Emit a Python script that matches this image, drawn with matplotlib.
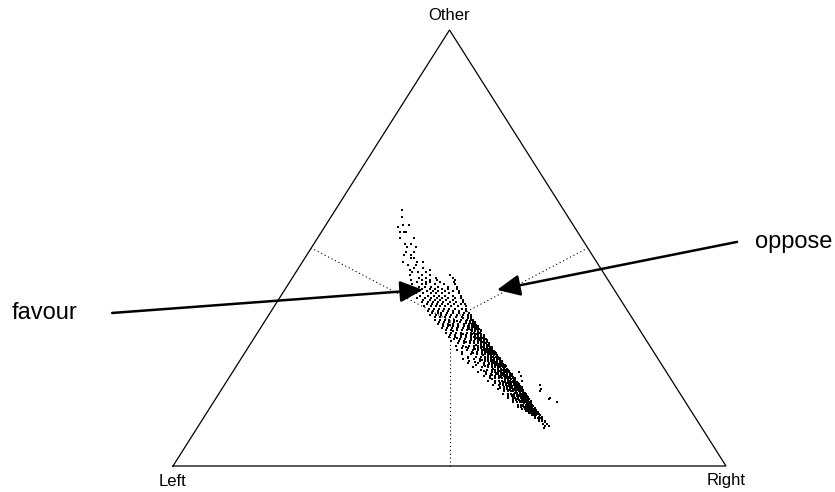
import matplotlib

matplotlib.use("Agg")
import matplotlib.pyplot as plt
import numpy as np

plt.rcParams["font.family"] = ["Liberation Sans", "DejaVu Sans"]

VERTEX_LABELS = ("Left", "Right", "Other")

# shares in percent (one row = one "Other" level)
other_levels = [
    58.7, 57.2, 55.3, 54.8, 53.6, 52.2, 51.0, 50.2, 49.0, 48.3,
    47.6, 46.7, 46.1, 45.4, 45.0, 44.4, 43.8, 43.2, 42.7, 42.2,
    41.7, 41.1, 40.6, 40.1, 39.6, 39.1, 38.6, 38.1, 37.6, 37.1,
    36.6, 36.1, 35.6, 35.1, 34.6, 34.1, 33.6, 33.1, 32.6, 32.1,
    31.6, 31.1, 30.6, 30.1, 29.6, 29.1, 28.6, 28.1, 27.6, 27.1,
    26.6, 26.1, 25.6, 25.1, 24.6, 24.1, 23.6, 23.1, 22.6, 22.1,
    21.6, 21.1, 20.6, 20.1, 19.6, 19.1, 18.6, 18.1, 17.6, 17.1,
    16.6, 16.1, 15.6, 15.1, 14.6, 14.1, 13.6, 13.1, 12.6, 12.1,
    11.6, 11.0, 10.4, 9.7, 8.7,
]
left_values = [
    [29.3], [29.9], [30.8, 29.6], [31.9], [32.2, 31.4, 31.0],
    [30.4, 32.9], [32.5, 31.4], [32.6, 30.9], [33.3, 31.9], [32.9, 34.0],
    [32.6, 33.2], [35.1, 32.6, 31.4], [34.5, 33.0], [32.1, 33.8], [34.7, 31.1],
    [34.5, 33.5, 32.0], [35.2, 33.0, 31.6, 28.0], [34.0, 32.7, 30.8, 27.8],
    [35.6, 33.6, 32.2, 31.0, 27.7], [34.8, 33.1, 32.5, 30.6, 28.1],
    [35.9, 34.2, 33.4, 31.8, 30.2, 28.2], [35.0, 33.9, 32.8, 31.5, 29.8, 28.1],
    [36.1, 34.6, 33.3, 32.4, 31.1, 30.0, 28.4], [35.4, 34.1, 33.0, 32.0, 30.7, 29.4, 28.3],
    [36.3, 35.0, 33.6, 32.7, 31.6, 30.3, 28.5], [35.8, 34.4, 33.3, 32.3, 31.2, 29.9, 28.4],
    [36.5, 35.2, 34.0, 33.0, 32.1, 31.0, 29.7, 28.6], [35.7, 34.5, 33.6, 32.6, 31.5, 30.4, 28.5],
    [36.2, 35.0, 34.1, 33.2, 32.3, 31.2, 30.0, 28.7], [35.5, 34.6, 33.7, 32.8, 31.8, 30.6, 29.3, 28.6],
    [36.4, 35.1, 34.2, 33.4, 32.5, 31.4, 30.2, 28.8], [35.7, 34.7, 33.8, 33.0, 32.0, 30.9, 29.6, 28.9],
    [36.0, 35.2, 34.3, 33.3, 32.4, 31.5, 30.4, 29.2], [35.6, 34.6, 33.9, 32.9, 31.9, 30.8, 29.8, 29.0],
    [36.2, 35.1, 34.2, 33.4, 32.5, 31.3, 30.2, 29.3, 28.9], [35.5, 34.7, 33.8, 32.8, 31.8, 30.6, 29.6, 29.0],
    [35.9, 35.0, 34.1, 33.2, 32.3, 31.1, 30.1, 29.4, 28.9], [35.3, 34.5, 33.5, 32.6, 31.6, 30.5, 29.8, 29.2, 28.8],
    [35.8, 34.9, 33.9, 33.0, 32.1, 31.0, 30.2, 29.6, 29.0], [35.2, 34.3, 33.3, 32.4, 31.4, 30.6, 29.9, 29.3, 28.8],
    [35.6, 34.7, 33.7, 32.8, 31.8, 30.9, 30.2, 29.6, 29.0], [35.0, 34.1, 33.1, 32.2, 31.2, 30.5, 29.9, 29.3, 28.8],
    [35.4, 34.5, 33.5, 32.6, 31.6, 30.8, 30.2, 29.6, 29.1], [34.8, 33.9, 32.9, 31.9, 31.0, 30.4, 29.8, 29.3, 28.8],
    [35.2, 34.2, 33.2, 32.3, 31.3, 30.7, 30.1, 29.5, 29.0], [34.6, 33.6, 32.6, 31.6, 30.9, 30.3, 29.8, 29.2, 28.8],
    [35.5, 34.0, 33.0, 32.0, 31.2, 30.6, 30.0, 29.5, 29.0], [34.4, 33.3, 32.3, 31.5, 30.8, 30.3, 29.8, 29.3, 28.8],
    [35.0, 33.7, 32.7, 31.8, 31.0, 30.5, 30.0, 29.5, 29.0], [34.2, 33.1, 32.1, 31.3, 30.7, 30.2, 29.7, 29.2, 28.8],
    [35.3, 33.6, 32.5, 31.6, 30.9, 30.4, 29.9, 29.4, 29.0], [34.6, 32.9, 31.9, 31.1, 30.6, 30.1, 29.6, 29.1, 28.7],
    [35.0, 33.4, 32.3, 31.4, 30.8, 30.3, 29.8, 29.3, 28.9], [34.1, 32.7, 31.7, 31.0, 30.5, 30.0, 29.5, 29.0, 28.6],
    [35.2, 33.2, 32.1, 31.3, 30.7, 30.2, 29.7, 29.2, 28.8], [34.4, 32.5, 31.5, 30.9, 30.4, 29.9, 29.4, 28.9, 28.5],
    [34.8, 33.0, 31.9, 31.1, 30.6, 30.1, 29.6, 29.1, 28.7], [33.6, 32.3, 31.4, 30.8, 30.3, 29.8, 29.3, 28.8, 28.4],
    [34.5, 32.8, 31.8, 31.0, 30.5, 30.0, 29.5, 29.0, 28.6], [33.2, 32.1, 31.2, 30.7, 30.2, 29.7, 29.2, 28.7, 28.3],
    [34.0, 32.6, 31.6, 30.9, 30.4, 29.9, 29.4, 28.9, 28.5, 26.6], [32.9, 31.9, 31.1, 30.6, 30.1, 29.6, 29.1, 28.6, 28.2],
    [33.5, 32.3, 31.4, 30.8, 30.3, 29.8, 29.3, 28.8, 28.4, 26.8], [32.6, 31.7, 31.0, 30.5, 30.0, 29.5, 29.0, 28.5, 28.1],
    [33.2, 32.0, 31.2, 30.7, 30.2, 29.7, 29.2, 28.7, 28.3, 27.0], [32.2, 31.4, 30.8, 30.3, 29.8, 29.3, 28.8, 28.4, 28.0],
    [32.8, 31.7, 31.0, 30.5, 30.0, 29.5, 29.0, 28.6, 28.2, 24.3], [31.9, 31.1, 30.6, 30.1, 29.6, 29.1, 28.7, 28.3, 27.9],
    [32.4, 31.4, 30.8, 30.3, 29.8, 29.3, 28.9, 28.5, 28.1, 24.6], [31.6, 30.9, 30.4, 29.9, 29.4, 28.9, 28.5, 28.1, 25.0],
    [32.0, 31.1, 30.5, 30.0, 29.5, 29.0, 28.6, 28.2, 27.8], [31.3, 30.7, 30.2, 29.7, 29.2, 28.8, 28.4, 28.0],
    [31.6, 30.8, 30.3, 29.8, 29.3, 28.9, 28.5, 28.1, 24.0], [30.9, 30.4, 29.9, 29.4, 29.0, 28.6, 28.2],
    [31.2, 30.5, 30.0, 29.5, 29.1, 28.7, 28.3, 23.2], [30.6, 30.1, 29.6, 29.2, 28.8, 28.4, 28.0],
    [30.8, 30.2, 29.7, 29.3, 28.9, 28.5], [30.3, 29.8, 29.4, 29.0, 28.6, 28.2],
    [29.9, 29.5, 29.1, 28.7, 28.3], [29.6, 29.2, 28.8, 28.4],
    [29.3, 28.9, 28.5, 27.9], [29.0, 28.5, 28.0], [28.7, 28.1, 27.6], [28.2, 27.5], [28.5],
]

# in-between rows along the dense ridge (same units)
ridge_levels = [
    33.85, 33.35, 32.85, 32.35, 31.85, 31.35, 30.85, 30.35, 29.85, 29.35,
    28.85, 28.35, 27.85, 27.35, 26.85, 26.35, 25.85, 25.35, 24.85, 24.35,
    23.85, 23.35, 22.85, 22.35, 21.85, 21.35, 20.85, 20.35, 19.85, 19.35,
    18.85, 18.35, 17.85, 17.35, 16.85, 16.35, 15.85, 15.35, 14.85, 14.35,
    13.85, 13.35, 12.85, 12.35, 11.85, 11.3, 10.7, 10.0, 9.2,
]
ridge_left_values = [
    [29.2, 29.7, 30.6], [29.1, 29.6, 30.4, 31.9], [29.3, 29.8, 30.6], [29.1, 29.6, 30.3, 33.8],
    [29.3, 29.8, 30.5, 32.5], [29.0, 29.6, 30.2, 30.8], [28.9, 29.4, 29.9, 30.5, 34.0],
    [29.1, 29.6, 30.1, 30.7, 32.4], [28.9, 29.4, 29.9, 30.5], [29.0, 29.5, 30.0, 30.6, 33.9],
    [28.8, 29.3, 29.8, 30.3, 31.7], [29.0, 29.5, 30.0, 30.6, 32.8], [28.9, 29.3, 29.8, 30.3, 31.2],
    [28.7, 29.0, 29.5, 30.0, 30.5, 33.4], [28.9, 29.2, 29.7, 30.2, 31.9], [28.8, 29.3, 29.8, 30.3, 30.9],
    [28.6, 29.1, 29.6, 30.1, 32.8], [28.8, 29.3, 29.8, 30.3, 31.3], [28.5, 29.0, 29.5, 30.0, 30.6, 34.2],
    [28.7, 29.2, 29.7, 30.2, 31.9], [28.5, 28.9, 29.4, 29.9, 30.4, 33.4], [28.6, 29.1, 29.6, 30.1, 31.1],
    [28.4, 28.8, 29.3, 29.8, 30.3, 32.2], [28.5, 29.0, 29.5, 30.0, 30.9], [28.3, 28.7, 29.2, 29.7, 30.2, 32.9],
    [28.4, 28.9, 29.4, 29.9, 30.8], [28.2, 28.6, 29.1, 29.6, 30.1, 31.8], [28.3, 28.8, 29.3, 29.8, 30.6],
    [28.2, 28.5, 29.0, 29.5, 30.0, 32.3], [28.2, 28.6, 29.1, 29.6, 30.4], [28.0, 28.4, 28.9, 29.4, 29.9, 31.4],
    [28.1, 28.5, 29.0, 29.5, 30.3], [28.0, 28.3, 28.8, 29.3, 29.8, 31.9], [28.1, 28.6, 29.1, 29.6, 30.6],
    [27.9, 28.3, 28.8, 29.3, 29.8], [28.0, 28.5, 29.0, 29.5, 30.4], [27.9, 28.3, 28.7, 29.1, 29.6],
    [28.0, 28.4, 28.8, 29.2, 30.1, 24.4], [27.9, 28.3, 28.7, 29.2, 29.7], [28.1, 28.5, 28.9, 29.4],
    [28.0, 28.3, 28.7, 29.1, 29.9], [27.9, 28.4, 28.8, 29.2], [28.0, 28.5, 28.9, 29.6],
    [27.8, 28.2, 28.6, 29.0], [27.9, 28.3, 28.7], [27.7, 28.2, 28.8], [27.9, 28.4], [27.8], [27.4, 28.1],
]

# reference composition marked by the dotted lines (left, right, other)
centre_share = [1 / 3, 1 / 3, 1 / 3]

# annotation arrows, in axes fractions of the triangle box
favour_start, favour_tip = (-0.110, 0.351), (0.452, 0.404)
oppose_start, oppose_tip = (1.020, 0.514), (0.586, 0.404)


def to_xy(left, right, other):
    total = left + right + other
    return (right + other / 2) / total, other / total


def flatten(levels, rows):
    other = np.concatenate([[o] * len(v) for o, v in zip(levels, rows)])
    left = np.concatenate([np.asarray(v, dtype=float) for v in rows])
    return left, other


def main() -> None:
    l1, o1 = flatten(other_levels, left_values)
    l2, o2 = flatten(ridge_levels, ridge_left_values)
    left = np.concatenate([l1, l2]) / 100
    other = np.concatenate([o1, o2]) / 100
    right = 1 - left - other

    fig = plt.figure(figsize=(8.35, 4.92), dpi=100)
    ax = fig.add_axes([173 / 835, 26 / 492, 553 / 835, 436 / 492])
    ax.set_xlim(0, 1)
    ax.set_ylim(0, 1)
    ax.axis("off")

    corners = [to_xy(1, 0, 0), to_xy(0, 1, 0), to_xy(0, 0, 1)]
    tx = [c[0] for c in corners] + [corners[0][0]]
    ty = [c[1] for c in corners] + [corners[0][1]]
    ax.plot(tx, ty, color="black", lw=0.9, solid_joinstyle="miter", clip_on=False)

    # dotted perpendiculars from the reference point to each side
    cl, cr, co = centre_share
    cx, cy = to_xy(cl, cr, co)
    feet = [to_xy(cl + co / 2, cr + co / 2, 0),
            to_xy(0, cr + cl / 2, co + cl / 2),
            to_xy(cl + cr / 2, 0, co + cr / 2)]
    for fx, fy in feet:
        ax.plot([cx, fx], [cy, fy], color="black", lw=0.8, ls=(0, (1, 2.5)), clip_on=False)

    px, py = to_xy(left, right, other)
    ax.scatter(px, py, s=2.0, marker="s", color="black", linewidths=0, zorder=3)

    offsets = [(0, -15), (0, -15), (0, 14)]
    for (vx, vy), label, off in zip(corners, VERTEX_LABELS, offsets):
        ax.annotate(label, (vx, vy), xytext=off, textcoords="offset pixels",
                    ha="center", va="center", fontsize=12)

    style = "-|>,head_length=1.4,head_width=0.65"
    for start, tip in ((favour_start, favour_tip), (oppose_start, oppose_tip)):
        ax.annotate("", xy=tip, xytext=start, xycoords="axes fraction",
                    textcoords="axes fraction",
                    arrowprops=dict(arrowstyle=style, color="black", lw=1.8,
                                    mutation_scale=10, shrinkA=0, shrinkB=0),
                    annotation_clip=False, zorder=4)

    ax.text(-0.291, favour_start[1], "favour", transform=ax.transAxes,
            ha="left", va="center", fontsize=17)
    ax.text(1.052, oppose_start[1], "oppose", transform=ax.transAxes,
            ha="left", va="center", fontsize=17)

    fig.savefig("out.png", dpi=100)
    plt.close(fig)


if __name__ == "__main__":
    main()
